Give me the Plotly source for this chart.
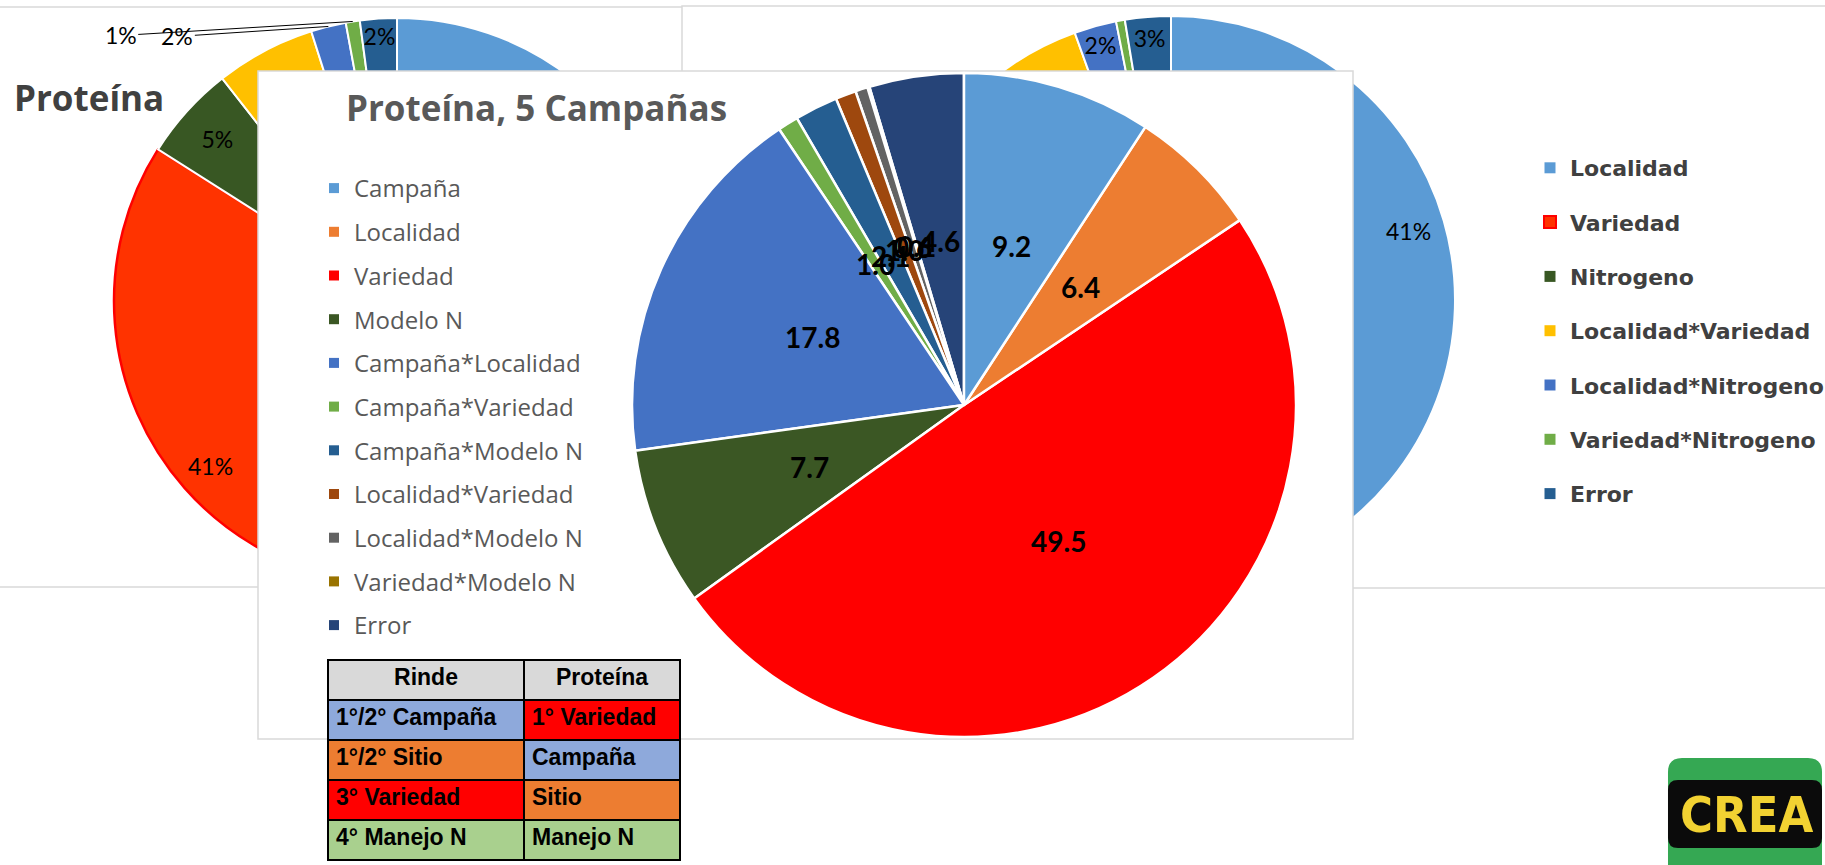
import math
import plotly.graph_objects as go

W, H = 1825, 865

# ---------------- data ----------------
factor_labels = ["Localidad", "Variedad", "Nitrogeno", "Localidad*Variedad",
                 "Localidad*Nitrogeno", "Variedad*Nitrogeno", "Error"]
left_values = [43.0, 41.0, 5.4, 5.7, 2.0, 0.8, 2.1]      # "Proteína" (%)
right_values = [41.0, 39.5, 8.0, 6.0, 2.4, 0.5, 2.6]     # second chart (%)
factor_colors = ["#5B9BD5", "#FF3300", "#385723", "#FFC000",
                 "#4472C4", "#70AD47", "#255E91"]

mid_labels = ["Campaña", "Localidad", "Variedad", "Modelo N", "Campaña*Localidad",
              "Campaña*Variedad", "Campaña*Modelo N", "Localidad*Variedad",
              "Localidad*Modelo N", "Variedad*Modelo N", "Error"]
mid_values = [9.2, 6.4, 49.5, 7.7, 17.8, 1.0, 2.1, 1.0, 0.6, 0.1, 4.6]
mid_colors = ["#5B9BD5", "#ED7D31", "#FF0000", "#3B5724", "#4472C4", "#70AD47",
              "#255E91", "#9E480E", "#636363", "#997300", "#264478"]

table_header = ["Rinde", "Proteína"]
table_rinde = ["1°/2° Campaña", "1°/2° Sitio", "3° Variedad", "4° Manejo N"]
table_proteina = ["1° Variedad", "Campaña", "Sitio", "Manejo N"]
table_rinde_colors = ["#8EA9DB", "#ED7D31", "#FF0000", "#A9D08E"]
table_proteina_colors = ["#FF0000", "#8EA9DB", "#ED7D31", "#A9D08E"]


# ---------------- helpers ----------------
def fx(px):
    return px / W


def fy(py):
    return 1 - py / H


def pie_domain(cx, cy, r):
    return dict(x=[fx(cx - r), fx(cx + r)], y=[fy(cy + r), fy(cy - r)])


def rect(x0, y0, x1, y1, **kw):
    return dict(type="rect", xref="paper", yref="paper",
                x0=fx(x0), x1=fx(x1), y0=fy(y1), y1=fy(y0), **kw)


def rounded(x0, y0, x1, y1, rad, **kw):
    def p(x, y):
        return f"{fx(x):.5f},{fy(y):.5f}"
    path = (f"M {p(x0 + rad, y0)} L {p(x1 - rad, y0)} Q {p(x1, y0)} {p(x1, y0 + rad)} "
            f"L {p(x1, y1 - rad)} Q {p(x1, y1)} {p(x1 - rad, y1)} "
            f"L {p(x0 + rad, y1)} Q {p(x0, y1)} {p(x0, y1 - rad)} "
            f"L {p(x0, y0 + rad)} Q {p(x0, y0)} {p(x0 + rad, y0)} Z")
    return dict(type="path", xref="paper", yref="paper", path=path, **kw)


def slice_point(values, idx, cx, cy, r, frac):
    """Point along the bisector of slice idx (clockwise from 12 o'clock)."""
    total = sum(values)
    mid = (sum(values[:idx]) + values[idx] / 2) / total * 2 * math.pi
    return cx + frac * r * math.sin(mid), cy - frac * r * math.cos(mid)


LEFT = (397, 301, 283)
RIGHT = (1171, 300, 284)
MID = (964, 405, 332)
PIE_FONT = dict(family="Lato", size=23, color="black")
MID_FONT = dict(family="Lato", size=28, color="black", weight="bold")

fig = go.Figure()

# left pie
fig.add_trace(go.Pie(
    labels=factor_labels, values=left_values, sort=False, direction="clockwise",
    rotation=0, domain=pie_domain(*LEFT),
    marker=dict(colors=factor_colors,
                line=dict(color=["white", "#FF0000", "white", "white", "white", "white", "white"],
                          width=[2, 2.5, 2, 2, 2, 2, 2])),
    texttemplate="%{percent:.0%}",
    textposition=["inside", "none", "inside", "inside", "none", "none", "inside"],
    insidetextorientation="horizontal", textfont=PIE_FONT,
    showlegend=False, hoverinfo="skip"))

# right pie
fig.add_trace(go.Pie(
    labels=factor_labels, values=right_values, sort=False, direction="clockwise",
    rotation=0, domain=pie_domain(*RIGHT),
    marker=dict(colors=factor_colors, line=dict(color="white", width=2)),
    texttemplate="%{percent:.0%}",
    textposition=["none", "inside", "inside", "inside", "inside", "none", "inside"],
    insidetextorientation="horizontal", textfont=PIE_FONT,
    showlegend=False, hoverinfo="skip"))

# middle chart panel (single white cell drawn above the two background pies)
fig.add_trace(go.Treemap(
    labels=["panel"], parents=[""], values=[1], textinfo="none", hoverinfo="skip",
    marker=dict(colors=["white"], line=dict(color="#D9D9D9", width=1.5)),
    pathbar=dict(visible=False),
    domain=dict(x=[fx(258), fx(1353)], y=[fy(739), fy(71)])))

# middle pie (sunburst fills counter-clockwise, so feed it in reverse order)
fig.add_trace(go.Sunburst(
    labels=mid_labels[::-1], parents=[""] * len(mid_labels), values=mid_values[::-1],
    sort=False, rotation=90, domain=pie_domain(*MID),
    marker=dict(colors=mid_colors[::-1], line=dict(color="white", width=2.5)),
    leaf=dict(opacity=1), textinfo="none", hoverinfo="skip"))

# table
TABLE_FONT = dict(family="Liberation Sans", size=23, color="black", weight="bold")
fig.add_trace(go.Table(
    columnwidth=[196, 156],
    domain=dict(x=[fx(328), fx(680)], y=[fy(862), fy(660)]),
    header=dict(values=table_header, fill_color="#D9D9D9", align="center", height=40,
                line=dict(color="black", width=2), font=TABLE_FONT),
    cells=dict(values=[table_rinde, table_proteina],
               fill_color=[table_rinde_colors, table_proteina_colors],
               align="left", height=40, line=dict(color="black", width=2),
               font=TABLE_FONT)))

# legend entries (middle chart)
for lab, col in zip(mid_labels, mid_colors):
    fig.add_trace(go.Scatter(x=[None], y=[None], mode="markers", name=lab,
                             marker=dict(symbol="square", size=10, color=col),
                             legend="legend", legendgroup="m" + lab, hoverinfo="skip"))
# legend entries (right chart)
for lab, col in zip(factor_labels, factor_colors):
    line = dict(color="#FF0000", width=2) if lab == "Variedad" else dict(width=0)
    fig.add_trace(go.Scatter(x=[None], y=[None], mode="markers", name=lab,
                             marker=dict(symbol="square", size=12 if lab == "Variedad" else 11,
                                         color=col, line=line),
                             legend="legend2", legendgroup="r" + lab, hoverinfo="skip"))

# ---------------- annotations ----------------
ann = []
ann.append(dict(text="<b>Proteína</b>", x=fx(12), y=fy(97), xanchor="left", yanchor="middle",
                font=dict(family="Open Sans", size=35, color="#404040")))
ann.append(dict(text="<b>Proteína, 5 Campañas</b>", x=fx(344), y=fy(108), xanchor="left",
                yanchor="middle", font=dict(family="Open Sans", size=35, color="#595959")))

# middle pie data labels at half radius along each slice bisector
for i, v in enumerate(mid_values):
    px_, py_ = slice_point(mid_values, i, *MID, 0.5)
    ann.append(dict(text=f"{v:.1f}", x=fx(px_), y=fy(py_), font=MID_FONT))

tot_l = sum(left_values)
px_, py_ = slice_point(left_values, 1, *LEFT, 0.88)
ann.append(dict(text=f"{left_values[1] / tot_l:.0%}", x=fx(px_), y=fy(py_), font=PIE_FONT))
tot_r = sum(right_values)
px_, py_ = slice_point(right_values, 0, *RIGHT, 0.87)
ann.append(dict(text=f"{right_values[0] / tot_r:.0%}", x=fx(px_), y=fy(py_), font=PIE_FONT))
# leader-line labels on the left pie
for idx, (ax, ay) in zip([5, 4], [(-232, 14), (-151, 10)]):
    px_, py_ = slice_point(left_values, idx, *LEFT, 1.0)
    ann.append(dict(text=f"{left_values[idx] / tot_l:.0%}", x=fx(px_), y=fy(py_),
                    ax=ax, ay=ay, showarrow=True, arrowhead=0, arrowwidth=1,
                    arrowcolor="black", font=PIE_FONT))
# CREA logo text
ann.append(dict(text="<b>CREA</b>", x=fx(1746), y=fy(815),
                font=dict(family="DejaVu Sans Condensed, Liberation Sans Narrow, sans-serif",
                          size=50, color="#F2D232")))
for a in ann:
    a.setdefault("xref", "paper")
    a.setdefault("yref", "paper")
    a.setdefault("showarrow", False)
    a.setdefault("xanchor", "center")
    a.setdefault("yanchor", "middle")

shapes = [
    rect(-5, 7, 700, 587, fillcolor="white", line=dict(color="#D9D9D9", width=1.5), layer="below"),
    rect(682, 6, 1840, 588, fillcolor="white", line=dict(color="#D9D9D9", width=1.5), layer="below"),
    rounded(1668, 758, 1822, 885, 14, fillcolor="#35A853", line=dict(width=0), layer="above"),
    rounded(1668, 780, 1822, 848, 10, fillcolor="#0B0B0B", line=dict(width=0), layer="above"),
]

fig.update_layout(
    width=W, height=H, margin=dict(l=0, r=0, t=0, b=0, pad=0, autoexpand=False),
    paper_bgcolor="white", plot_bgcolor="rgba(0,0,0,0)",
    xaxis=dict(visible=False, range=[0, 1], domain=[0, 1], fixedrange=True),
    yaxis=dict(visible=False, range=[0, 1], domain=[0, 1], fixedrange=True),
    shapes=shapes, annotations=ann,
    uniformtext=dict(minsize=23, mode="show"),
    legend=dict(x=fx(314), y=fy(166), xanchor="left", yanchor="top",
                bgcolor="rgba(0,0,0,0)", tracegroupgap=9.5,
                font=dict(family="Open Sans", size=24, color="#595959")),
    legend2=dict(x=fx(1530), y=fy(147), xanchor="left", yanchor="top",
                 bgcolor="rgba(0,0,0,0)", tracegroupgap=22.7,
                 font=dict(family="DejaVu Sans", size=22, color="#404040", weight="bold")),
)

fig.write_html("out.html", config={"displayModeBar": False},
               post_script="document.body.style.margin='0';document.body.style.overflow='hidden';")
